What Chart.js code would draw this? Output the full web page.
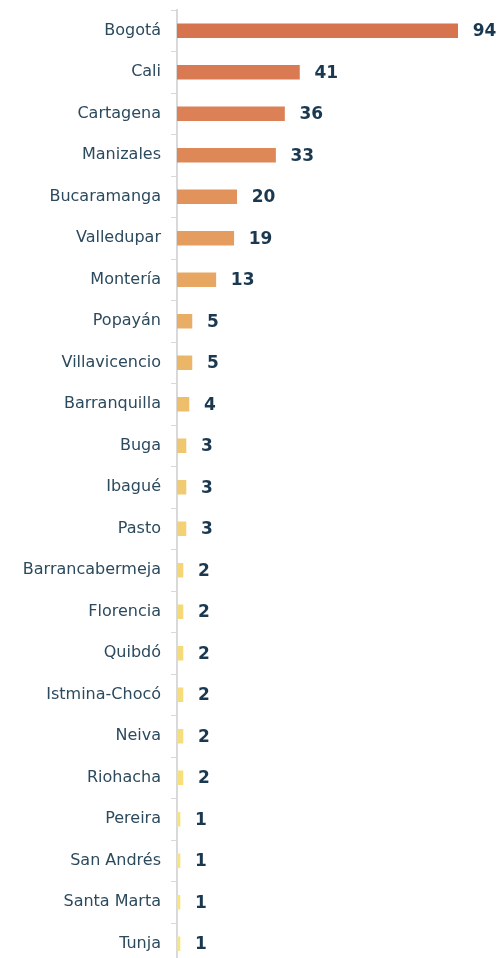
<!DOCTYPE html>
<html><head><meta charset="utf-8">
<script src="https://cdn.jsdelivr.net/npm/chart.js@4"></script>
<style>html,body{margin:0;padding:0;background:#fff;overflow:hidden;width:498px;height:958px}canvas{display:block}</style>
</head><body><canvas id="c" width="498" height="970"></canvas>
<script>
const cities = ["Bogotá","Cali","Cartagena","Manizales","Bucaramanga","Valledupar","Montería","Popayán","Villavicencio","Barranquilla","Buga","Ibagué","Pasto","Barrancabermeja","Florencia","Quibdó","Istmina-Chocó","Neiva","Riohacha","Pereira","San Andrés","Santa Marta","Tunja"];
const counts = [94,41,36,33,20,19,13,5,5,4,3,3,3,2,2,2,2,2,2,1,1,1,1];
const barColors = ["#d6744f","#d97a52","#db8155","#de8858","#e2935c","#e49d5f","#e7a763","#e9ae66","#ebb668","#eebe6b","#f0c66e","#f1cb71","#f3d174","#f4d676","#f5d977","#f5db78","#f6dd79","#f6df7a","#f7e07a","#f7e27b","#f8e37c","#f8e47c","#f8e57d"];

const valueLabels = {
  id:'valueLabels',
  afterDatasetsDraw(chart){
    const ctx = chart.ctx;
    const meta = chart.getDatasetMeta(0);
    ctx.save();
    ctx.font = "bold 17px 'DejaVu Sans'";
    ctx.fillStyle = "#1a3850";
    ctx.textAlign = "left";
    ctx.textBaseline = "middle";
    meta.data.forEach((el,i)=>{
      ctx.fillText(String(counts[i]), el.x + 15, el.y + 1);
    });
    ctx.restore();
  }
};

new Chart(document.getElementById('c'), {
  type:'bar',
  data:{labels:cities, datasets:[{data:counts, backgroundColor:barColors, barThickness:14, borderWidth:0}]},
  options:{
    indexAxis:'y',
    responsive:false, animation:false,
    layout:{padding:{top:10,right:0,bottom:5.5,left:0}},
    plugins:{legend:{display:false},tooltip:{enabled:false}},
    scales:{
      x:{display:false,min:0,max:107.5},
      y:{
        offset:true,
        afterFit(s){ s.width = 177; s.paddingTop = 0; s.paddingBottom = 0; },
        grid:{display:true,drawOnChartArea:false,offset:true,tickLength:6,color:"#d9d9d9",lineWidth:1},
        border:{display:true,color:"#d9d9d9",width:2},
        ticks:{color:"#2c4a5e",font:{family:"'DejaVu Sans'",size:16},padding:10,autoSkip:false}
      }
    }
  },
  plugins:[valueLabels]
});
</script></body></html>
